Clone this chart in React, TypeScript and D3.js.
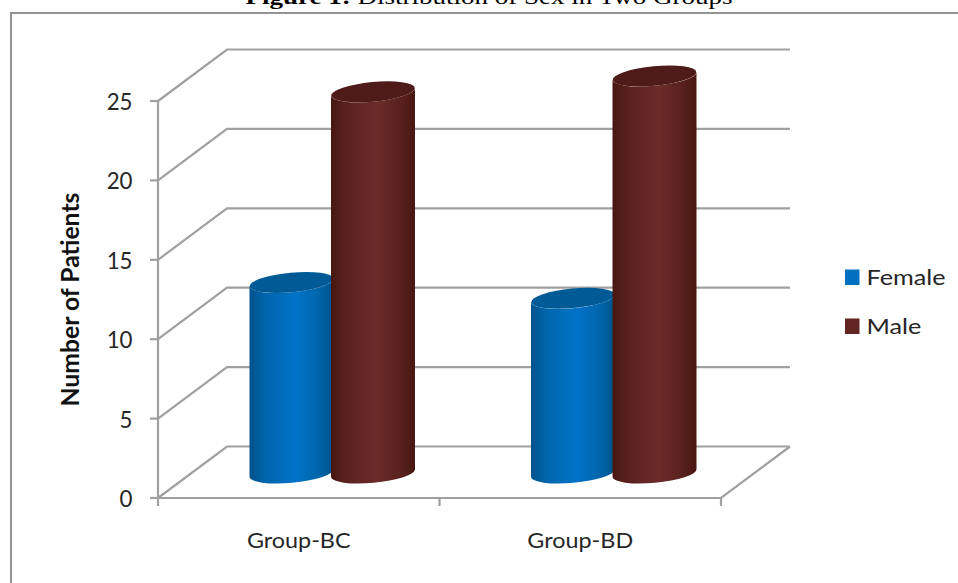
import React from "react";
import * as d3 from "d3";

const categories = ["Group-BC", "Group-BD"];
const seriesNames = ["Female", "Male"];
const femaleValues = [12, 11];
const maleValues = [24, 25];
const yTicks = [0, 5, 10, 15, 20, 25];

const palettes: Record<string, { edge: string; mid: string; center: string; top: string; swatch: string }> = {
  Female: { edge: "#00528c", mid: "#0065ab", center: "#0073c8", top: "#005a96", swatch: "#0070c0" },
  Male: { edge: "#47170f", mid: "#5a211e", center: "#6b2b29", top: "#4e1b18", swatch: "#632523" },
};

const LINE = "#a0a0a0";
const LABEL = "#262626";
const FONT = "Lato, 'Open Sans', sans-serif";

const floorLeft = 158;
const floorRight = 721;
const floorY = 498;
const topY = 101;
const depthX = 69;
const depthY = -51.5;

const x0 = d3.scaleBand<string>().domain(categories).range([floorLeft, floorRight]);
const y = d3.scaleLinear().domain([0, 25]).range([floorY, topY]);
const unit = floorY - y(1);

// Half of a cylinder's width, its foreshortened depth and the tilt of its caps.
const rx = 42;
const ry = 9.8;
const tilt = -5.4;
const tangentRise = 3.9;
const baseCenterY = 473;

function cylinderCenters(groupIndex: number) {
  const left = x0(categories[groupIndex])!;
  return { female: left + 133.5, male: left + 215 };
}

function Cylinder({ cx, value, name }: { cx: number; value: number; name: string }) {
  const yTop = baseCenterY - value * unit;
  const body = [
    `M${cx - rx},${yTop + tangentRise}`,
    `L${cx - rx},${baseCenterY + tangentRise}`,
    `A${rx},${ry} ${tilt} 0 0 ${cx + rx},${baseCenterY - tangentRise}`,
    `L${cx + rx},${yTop - tangentRise}`,
    `A${rx},${ry} ${tilt} 0 1 ${cx - rx},${yTop + tangentRise}`,
    "Z",
  ].join(" ");
  return (
    <g>
      <path d={body} fill={`url(#grad-${name})`} />
      <ellipse
        cx={cx}
        cy={yTop}
        rx={rx}
        ry={ry}
        transform={`rotate(${tilt} ${cx} ${yTop})`}
        fill={palettes[name].top}
      />
    </g>
  );
}

// Text widened along its own baseline, as the labels of this chart are set.
function Wide({
  x,
  y: yPos,
  k,
  anchor = "start",
  size,
  children,
}: {
  x: number;
  y: number;
  k: number;
  anchor?: string;
  size: number;
  children: React.ReactNode;
}) {
  return (
    <text transform={`translate(${x},${yPos}) scale(${k},1)`} textAnchor={anchor} fontSize={size}>
      {children}
    </text>
  );
}

export default function App() {
  return (
    <svg
      width={958}
      height={583}
      style={{ position: "absolute", left: 0, top: 0, background: "#fff" }}
    >
      <defs>
        {seriesNames.map((name) => (
          <linearGradient key={name} id={`grad-${name}`} x1="0" x2="1" y1="0" y2="0">
            <stop offset="0" stopColor={palettes[name].edge} />
            <stop offset="0.18" stopColor={palettes[name].mid} />
            <stop offset="0.55" stopColor={palettes[name].center} />
            <stop offset="0.82" stopColor={palettes[name].mid} />
            <stop offset="1" stopColor={palettes[name].edge} />
          </linearGradient>
        ))}
      </defs>

      <text
        transform="translate(489,4) scale(1.286,1)"
        textAnchor="middle"
        fontFamily="'Liberation Serif', serif"
        fontSize={21}
        fill="#000"
      >
        <tspan fontWeight="bold">Figure 1:</tspan> Distribution of Sex in Two Groups
      </text>

      <path d="M11,583 V13 H958" fill="none" stroke="#939393" strokeWidth={2} />

      <g fill="none" stroke={LINE} strokeWidth={2.2}>
        {yTicks.map((t) => (
          <path
            key={t}
            d={`M${floorLeft},${y(t)} L${floorLeft + depthX},${y(t) + depthY} H${floorRight + depthX}`}
          />
        ))}
        <path d={`M${floorLeft},${y(25)} V${floorY + 8}`} />
        <path d={`M${floorLeft},${floorY} H${floorRight} L${floorRight + depthX},${floorY + depthY}`} />
        {yTicks.map((t) => (
          <path key={t} d={`M${floorLeft - 8},${y(t)} H${floorLeft}`} />
        ))}
        {categories.map((c) => (
          <path key={c} d={`M${x0(c)! + x0.bandwidth()},${floorY} v8`} />
        ))}
      </g>

      {categories.map((c, i) => {
        const { female, male } = cylinderCenters(i);
        return (
          <g key={c}>
            <Cylinder cx={female} value={femaleValues[i]} name="Female" />
            <Cylinder cx={male} value={maleValues[i]} name="Male" />
          </g>
        );
      })}

      <g fontFamily={FONT} fill={LABEL}>
        {yTicks.map((t) => (
          <Wide key={t} x={132.5} y={y(t) + 9} k={0.97} anchor="end" size={23}>
            {t}
          </Wide>
        ))}
        {categories.map((c) => (
          <Wide key={c} x={x0(c)! + x0.bandwidth() / 2} y={548} k={1.113} anchor="middle" size={21}>
            {c}
          </Wide>
        ))}
        <text
          transform="translate(79,299.5) rotate(-90) scale(1.03,1)"
          textAnchor="middle"
          fontWeight="bold"
          fontSize={24}
          fill="#111"
        >
          Number of Patients
        </text>
        {seriesNames.map((name, i) => (
          <g key={name} transform={`translate(845,${269.5 + i * 49})`}>
            <rect width={14.5} height={15.5} fill={palettes[name].swatch} />
            <Wide x={21.5} y={15} k={1.147} size={22}>
              {name}
            </Wide>
          </g>
        ))}
      </g>
    </svg>
  );
}
